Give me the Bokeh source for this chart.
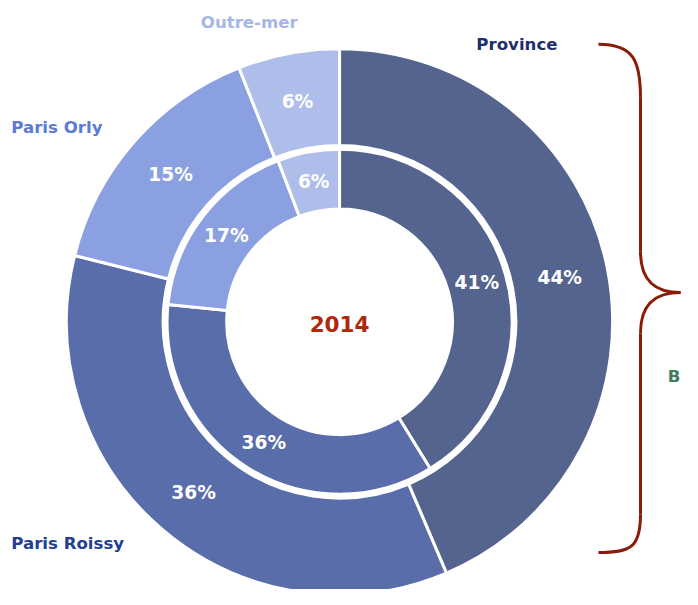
import numpy as np
from bokeh.plotting import figure
from bokeh.models import Range1d, ColumnDataSource
from bokeh.core.properties import value
from bokeh.embed import file_html
from bokeh.resources import INLINE

# ---- data ----
categories = ["Province", "Paris Roissy", "Paris Orly", "Outre-mer"]
outer_values = [43.6, 35.3, 15.1, 6.0]
outer_labels = ["44%", "36%", "15%", "6%"]
inner_values = [41.2, 35.4, 17.6, 5.8]
inner_labels = ["41%", "36%", "17%", "6%"]
colors = ["#55638F", "#5A6DAB", "#8AA0E0", "#AFBDEA"]
cat_label_colors = ["#1F2F6E", "#243F8F", "#5A7BD6", "#A6B6EA"]
center_label = "2014"

# layout space = reference picture pixels (698 x 605), y flipped
RW, RH = 698, 605
W, H = 682, 589
S = W / RW
p = figure(width=W, height=H, output_backend="svg", toolbar_location=None,
           x_range=Range1d(0, RW), y_range=Range1d(0, RH), min_border=0)
p.axis.visible = False
p.grid.visible = False
p.outline_line_color = None
p.background_fill_color = "white"

def py(y):
    return RH - y

def fs(v):
    return "%.1fpx" % (v * S)

cx, cy = 347, py(330)
FONT = value("DejaVu Sans")

def ring(values, labels, r_in, r_out, r_lab):
    v = np.array(values, dtype=float)
    frac = v / v.sum()
    cum = np.concatenate([[0], np.cumsum(frac)])
    start = np.pi / 2 - 2 * np.pi * cum[:-1]
    end = np.pi / 2 - 2 * np.pi * cum[1:]
    mid = (start + end) / 2
    src = ColumnDataSource(dict(start=start, end=end, color=colors,
                                lx=cx + r_lab * np.cos(mid),
                                ly=cy + r_lab * np.sin(mid),
                                lab=labels))
    p.annular_wedge(x=cx, y=cy, inner_radius=r_in, outer_radius=r_out,
                    start_angle="start", end_angle="end", direction="clock",
                    fill_color="color", line_color="white", line_width=3,
                    source=src)
    p.text(x="lx", y="ly", text="lab", source=src, text_color="white",
           text_font=FONT, text_font_style="bold", text_font_size=fs(19),
           text_align="center", text_baseline="middle")

ring(outer_values, outer_labels, 180.5, 279.5, 230)
ring(inner_values, inner_labels, 115.5, 176.5, 146)

# centre label
p.text(x=[cx], y=[py(332)], text=[center_label], text_color="#B0280C",
       text_font=FONT, text_font_style="bold", text_font_size=fs(22),
       text_align="center", text_baseline="middle")

# category labels
lab_x = [487, 11, 11, 205]
lab_y = [py(45), py(558), py(130), py(23)]
p.text(x=lab_x, y=lab_y, text=categories, text_color=cat_label_colors,
       text_font=FONT, text_font_style="bold", text_font_size=fs(17),
       text_align="left", text_baseline="middle")

# brace
bc = "#8B1A06"
bw = 3
p.bezier(x0=[612], y0=[py(45)], x1=[655], y1=[py(100)],
         cx0=[648], cy0=[py(45)], cx1=[655], cy1=[py(62)],
         line_color=bc, line_width=bw)
p.line(x=[655, 655], y=[py(100), py(258)], line_color=bc, line_width=bw)
p.bezier(x0=[655], y0=[py(258)], x1=[696], y1=[py(300)],
         cx0=[655], cy0=[py(290)], cx1=[672], cy1=[py(300)],
         line_color=bc, line_width=bw)
p.bezier(x0=[696], y0=[py(300)], x1=[655], y1=[py(342)],
         cx0=[672], cy0=[py(300)], cx1=[655], cy1=[py(310)],
         line_color=bc, line_width=bw)
p.line(x=[655, 655], y=[py(342), py(528)], line_color=bc, line_width=bw)
p.bezier(x0=[655], y0=[py(528)], x1=[612], y1=[py(567)],
         cx0=[655], cy0=[py(562)], cx1=[645], cy1=[py(567)],
         line_color=bc, line_width=bw)

p.text(x=[683], y=[py(386)], text=["B"], text_color="#3F7D5C",
       text_font=FONT, text_font_style="bold", text_font_size=fs(17),
       text_align="left", text_baseline="middle")

open("out.html", "w").write(file_html(p, INLINE))
